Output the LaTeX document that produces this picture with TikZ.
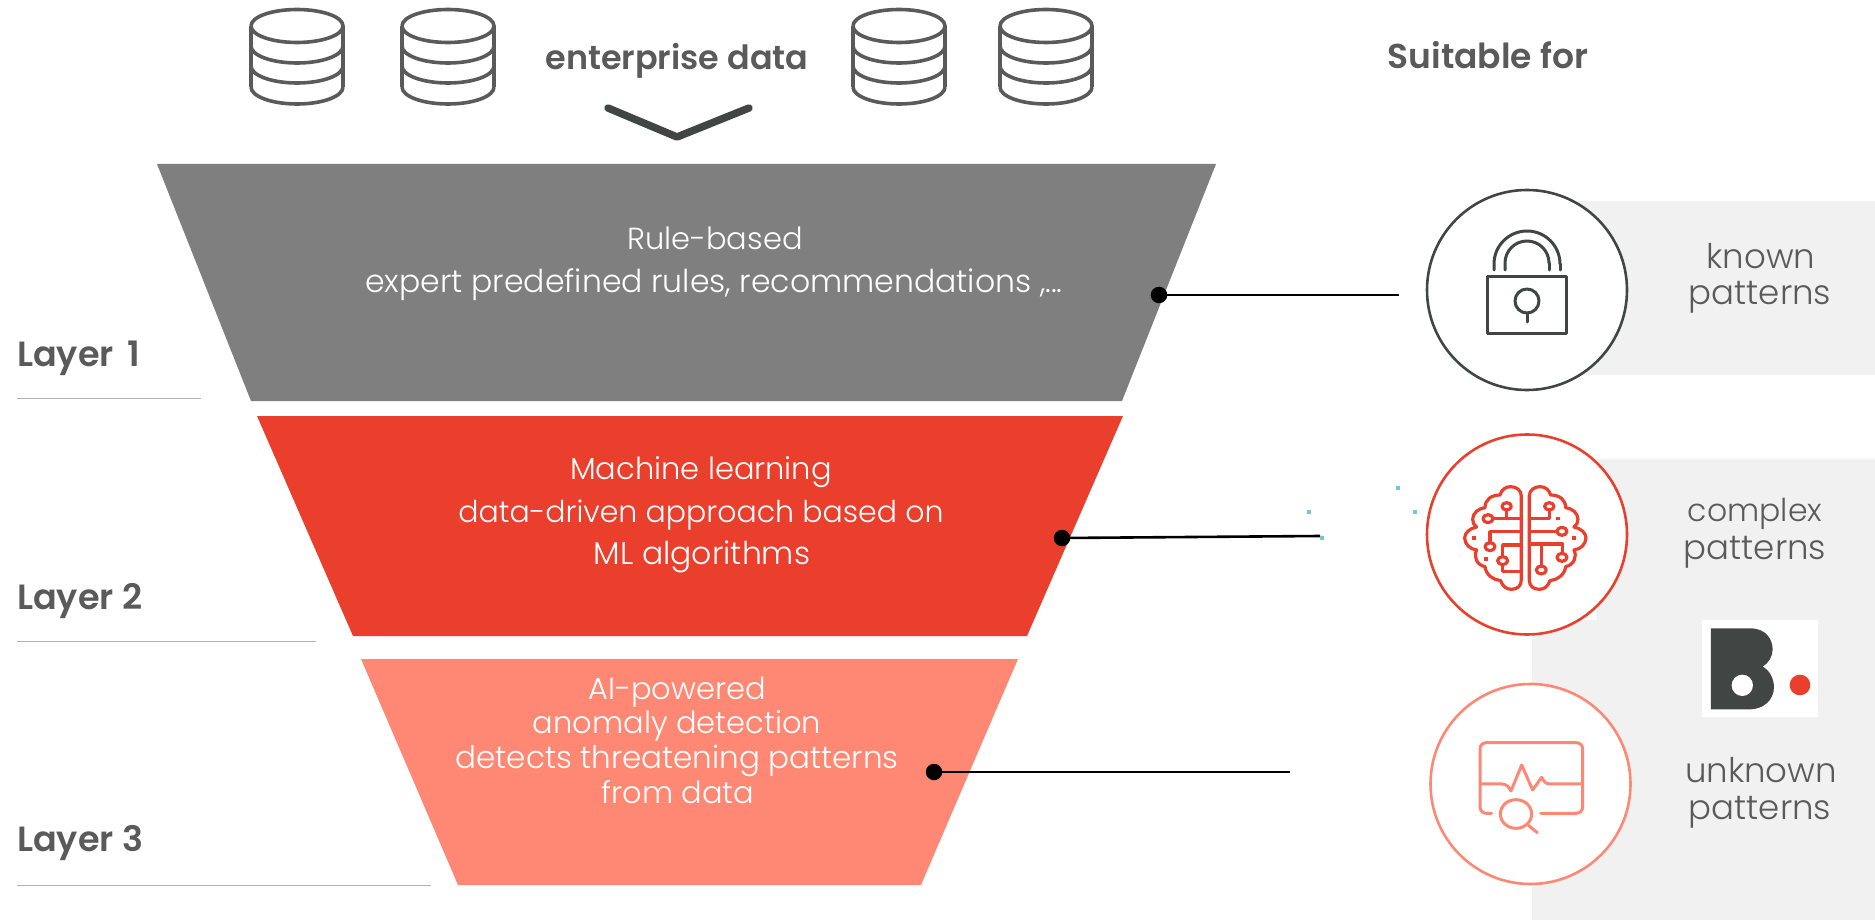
\documentclass[tikz,border=0pt]{standalone}
\usepackage{fontspec}
\setmainfont{Poppins Light}
\newfontfamily\boldf{Poppins SemiBold}
\usetikzlibrary{calc}
\definecolor{gfun}{HTML}{7F7F7F}
\definecolor{rfun}{HTML}{EA3F2D}
\definecolor{sfun}{HTML}{FF8875}
\definecolor{panel}{HTML}{F1F1F1}
\definecolor{dark}{HTML}{414644}
\definecolor{txt}{HTML}{5A5A5A}
\definecolor{teal}{HTML}{74C8D2}
\tikzset{
  x=1pt,y=-1pt,
  funneltext/.style={text=white,font=\fontsize{30.5}{36}\selectfont,inner sep=0pt,anchor=base},
  sidetext/.style={text=txt,font=\fontsize{34}{40}\selectfont,inner sep=0pt,anchor=base},
  headtext/.style={text=txt,font=\boldf\fontsize{33.4}{40}\selectfont,inner sep=0pt,anchor=base},
  layertext/.style={text=txt,font=\boldf\fontsize{35}{40}\selectfont,inner sep=0pt,anchor=base west},
  rulebar/.style={draw=black!30,line width=1pt},
  conn/.style={draw=black,line width=2.6pt},
  condot/.style={circle,fill=black,inner sep=0pt,minimum size=16.5pt},
  tealdot/.style={rectangle,fill=teal,inner sep=0pt,minimum size=4pt},
  ring/.style={circle,fill=white,inner sep=0pt,minimum size=200pt,line width=2.6pt},
  dbline/.style={draw=txt,line width=3.6pt},
  icon/.style={line width=3pt,line cap=round,line join=round},
  tiny/.style={fill=rfun,draw=none},
}
\newcommand{\dbicon}[1]{%
 \begin{scope}[shift={(#1,0)}]
  \draw[dbline] (0,26) arc[start angle=180,end angle=-180,x radius=46,y radius=16.5];
  \draw[dbline] (0,26) -- (0,87);
  \draw[dbline] (92,26) -- (92,87);
  \draw[dbline] (0,46) arc[start angle=180,end angle=0,x radius=46,y radius=17];
  \draw[dbline] (0,66) arc[start angle=180,end angle=0,x radius=46,y radius=17];
  \draw[dbline] (0,87) arc[start angle=180,end angle=0,x radius=46,y radius=17];
 \end{scope}}
\begin{document}
\begin{tikzpicture}
\useasboundingbox (0,0) rectangle (1875,920);
% panels
\fill[panel] (1527,201) rectangle (1875,375);
\fill[panel] (1597,459) rectangle (1875,640);
\fill[panel] (1532,620) rectangle (1875,920);
\fill[white] (1702,620) rectangle (1818,717);
% logo
\begin{scope}[shift={(1400,610)},x=0.3333pt,y=-0.3333pt]
 \fill[dark] (933,55) -- (1050,55) .. controls (1100,55) and (1118,90) .. (1118,118) .. controls (1118,140) and (1105,160) .. (1088,170) .. controls (1108,180) and (1122,205) .. (1122,232) .. controls (1122,270) and (1090,298) .. (1050,298) -- (933,298) -- cycle;
 \fill[white] (1027,226) circle[radius=32];
 \fill[rfun] (1200,225) circle[radius=31];
\end{scope}
% funnel
\fill[gfun] (157,164) -- (1216,164) -- (1122,401) -- (251,401) -- cycle;
\fill[rfun] (257,416) -- (1123,416) -- (1027,636) -- (353,636) -- cycle;
\fill[sfun] (361,659) -- (1018,659) -- (921,885) -- (458,885) -- cycle;
% funnel text
\node[funneltext] (t1a) at (715,250) {Rule-based};
\node[funneltext,font=\fontsize{31.5}{36}\selectfont] (t1b) at (714,292) {expert predefined rules, recommendations ,...};
\node[funneltext] (t2a) at (701,479) {Machine learning};
\node[funneltext,font=\fontsize{30}{36}\selectfont] (t2b) at (701,522) {data-driven approach based on};
\node[funneltext,font=\fontsize{31.5}{36}\selectfont] (t2c) at (702,564) {ML algorithms};
\node[funneltext] (t3a) at (677,699) {AI-powered};
\node[funneltext] (t3b) at (677,733) {anomaly detection};
\node[funneltext,font=\fontsize{31}{36}\selectfont] (t3c) at (677,768) {detects threatening patterns};
\node[funneltext] (t3d) at (678,803) {from data};
% header
\dbicon{251}\dbicon{402}\dbicon{853}\dbicon{1000}
\node[headtext] (hd) at (677,70) {enterprise data};
\node[headtext,font=\boldf\fontsize{34.5}{40}\selectfont] (sf) at (1488,69) {Suitable for};
\coordinate (cha) at (608,108);
\coordinate (chb) at (677,137);
\coordinate (chc) at (749,108);
\draw[dark,line width=7.5pt,line cap=round,line join=round] (cha) -- (chb) -- (chc);
% layers
\node[layertext] (l1) at (17,366) {Layer\hspace{5pt} 1};
\node[layertext] (l2) at (17,609) {Layer 2};
\node[layertext] (l3) at (17,851) {Layer 3};
\draw[rulebar] (17,398) -- (201,398);
\draw[rulebar] (17,641) -- (316,641);
\draw[rulebar] (17,885) -- (431,885);
% connectors
\node[condot] (d1) at (1159,295) {};
\node[condot] (d2) at (1062,538) {};
\node[condot] (d3) at (934,772) {};
\coordinate (e1) at (1399,295);
\coordinate (e2) at (1320,536);
\coordinate (e3) at (1290,772);
\draw[conn] (d1.center) -- (e1);
\draw[conn] (d2.center) -- (e2);
\draw[conn] (d3.center) -- (e3);
\node[tealdot] (q1) at (1309,512) {};
\node[tealdot] (q2) at (1398,488) {};
\node[tealdot] (q3) at (1415,512) {};
\node[tealdot] (q4) at (1322,538) {};
% rings
\node[ring,draw=dark] (c1) at (1527,290) {};
\node[ring,draw=rfun] (c2) at (1527,534.5) {};
\node[ring,draw=sfun] (c3) at (1530.5,784) {};
% lock
\begin{scope}[icon,draw=dark]
 \draw (1487,277) rectangle (1566,333);
 \draw (1494,270) -- (1494,264) arc[start angle=180,end angle=360,radius=33];
 \draw (1560,264) -- (1560,270);
 \draw (1505,270) -- (1505,263) arc[start angle=180,end angle=360,radius=22];
 \draw (1549,263) -- (1549,270);
 \draw (1527,301) circle[radius=12];
 \draw (1527,313) -- (1527,322);
\end{scope}
% brain
\begin{scope}[shift={(1280,420)},x=0.3333pt,y=-0.3333pt,icon,draw=rfun,line width=3.2pt]
 \foreach \s/\o in {1/0,-1/1472}{
 \begin{scope}[xscale=\s,shift={(\o*\s,0)}]
 \draw (724,480) -- (724,228)
   .. controls (724,210) and (708,200) .. (692,200)
   .. controls (675,200) and (665,210) .. (660,225)
   .. controls (635,225) and (615,238) .. (615,263)
   .. controls (595,265) and (578,280) .. (578,298)
   .. controls (578,308) and (582,315) .. (590,321)
   .. controls (570,325) and (554,338) .. (554,354)
   .. controls (554,372) and (570,388) .. (590,390)
   .. controls (580,410) and (590,435) .. (615,440)
   .. controls (618,465) and (640,480) .. (662,482)
   .. controls (668,500) and (680,508) .. (694,508)
   .. controls (712,508) and (724,498) .. (724,480);
 \end{scope}}
 \draw (680,259) ellipse[x radius=14,y radius=11];
 \draw (680,270) -- (680,296);
 \draw (624,296) ellipse[x radius=15,y radius=12];
 \draw (639,296) -- (724,296);
 \draw (630,380) ellipse[x radius=15,y radius=12];
 \draw (630,368) -- (630,335) -- (724,335);
 \draw (668,422) ellipse[x radius=15,y radius=12];
 \draw (668,410) -- (668,375) -- (724,375);
 \draw (668,434) -- (668,455) -- (724,455);
 \draw (808,259) ellipse[x radius=14,y radius=11];
 \draw (808,270) -- (808,296) -- (748,296);
 \draw (846,334) ellipse[x radius=15,y radius=12];
 \draw (831,334) -- (748,334);
 \draw (748,372) -- (848,372) -- (848,400);
 \draw (846,412) ellipse[x radius=15,y radius=12];
 \draw (784,372) -- (784,438);
 \draw (784,450) ellipse[x radius=15,y radius=12];
 \fill[tiny] (828,291) rectangle (839,301);
 \fill[tiny] (877,349) rectangle (888,359);
 \fill[tiny] (576,349) rectangle (587,359);
 \fill[tiny] (612,412) rectangle (623,422);
\end{scope}
% monitor
\begin{scope}[shift={(1400,610)},x=0.3333pt,y=-0.3333pt,icon,draw=sfun,line width=3pt]
 \draw (275,610) -- (260,610) .. controls (248,610) and (240,602) .. (240,590) -- (240,418) .. controls (240,405) and (248,398) .. (260,398) -- (528,398) .. controls (540,398) and (548,405) .. (548,418) -- (548,590) .. controls (548,602) and (540,610) .. (528,610) -- (422,610);
 \draw (240,522) -- (305,522) .. controls (320,522) and (325,530) .. (333,543) -- (365,465) -- (398,540) -- (425,502) .. controls (432,515) and (438,522) .. (450,522) -- (548,522);
 \draw (348,612) ellipse[x radius=47,y radius=43];
 \draw (385,646) -- (412,668);
\end{scope}
% side text
\node[sidetext] (s1a) at (1761,269) {known};
\node[sidetext] (s1b) at (1760,305) {patterns};
\node[sidetext,font=\fontsize{31.5}{40}\selectfont] (s2a) at (1755,521) {complex};
\node[sidetext] (s2b) at (1755,559) {patterns};
\node[sidetext] (s3a) at (1761,782) {unknown};
\node[sidetext] (s3b) at (1760,819) {patterns};
\end{tikzpicture}
\end{document}
